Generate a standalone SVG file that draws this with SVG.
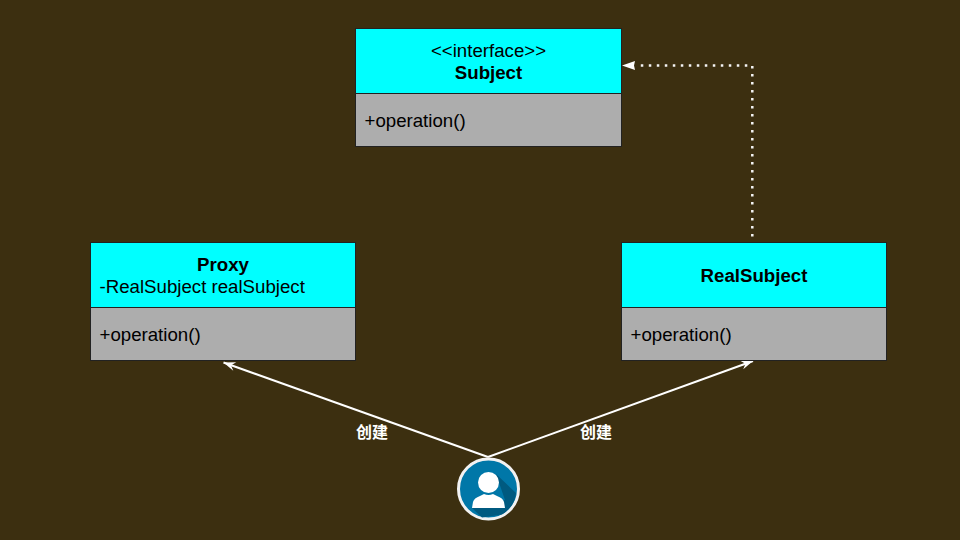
<svg xmlns="http://www.w3.org/2000/svg" width="960" height="540" viewBox="0 0 960 540">
<style>
.h{fill:#00ffff;stroke:#222;stroke-width:1}
.b{fill:#adadad;stroke:#222;stroke-width:1}
text{font-family:"Liberation Sans",Arial,sans-serif;font-size:18.67px;fill:#000}
.t{font-weight:bold;text-anchor:middle}
.c{text-anchor:middle}
.l{font-family:"Liberation Sans","Noto Sans CJK SC",sans-serif;font-size:16px;font-weight:bold;fill:#fff;text-anchor:middle}
.e{fill:none;stroke:#fff;stroke-width:2}
.d{fill:none;stroke:#f4f4f4;stroke-width:2.500;stroke-dasharray:2.500 5.500}
</style>
<defs>
<marker id="op" markerUnits="userSpaceOnUse" markerWidth="14" markerHeight="12" refX="13" refY="6" orient="auto"><path d="M13 6L1 1.500L5 6L1 10.500Z" fill="#fff"/></marker>
</defs>
<rect width="960" height="540" fill="#3c2f10"/>
<g id="connectors">
<path class="d" d="M752.300 244.500V65.500H636"/>
<path d="M635 61L634 65.500L635 70L622 65.500Z" fill="#fff"/>
<path class="e" d="M488 457L223.500 362.500" marker-end="url(#op)"/>
<path class="e" d="M488 457L753 361" marker-end="url(#op)"/>
</g>
<g id="subject">
<rect class="h" x="355.500" y="28.500" width="266" height="65"/>
<rect class="b" x="355.500" y="93.500" width="266" height="53"/>
<text class="c" x="488.500" y="57">&lt;&lt;interface&gt;&gt;</text>
<text class="t" x="488.500" y="79">Subject</text>
<text x="364.500" y="127">+operation()</text>
</g>
<g id="proxy">
<rect class="h" x="90.500" y="242.500" width="265" height="65"/>
<rect class="b" x="90.500" y="307.500" width="265" height="53"/>
<text class="t" x="223" y="271">Proxy</text>
<text x="99.500" y="293">-RealSubject realSubject</text>
<text x="99.500" y="341">+operation()</text>
</g>
<g id="realsubject">
<rect class="h" x="621.500" y="242.500" width="265" height="65"/>
<rect class="b" x="621.500" y="307.500" width="265" height="53"/>
<text class="t" x="754" y="282">RealSubject</text>
<text x="630.500" y="341">+operation()</text>
</g>
<g id="label-left"><text class="l" x="372" y="438">创建</text></g>
<g id="label-right"><text class="l" x="596" y="438">创建</text></g>
<g id="client">
<circle cx="488.500" cy="489" r="30" fill="#0077a8" stroke="#f2f2f2" stroke-width="3"/>
<path d="M496 474L516 493A28.500 28.500 0 0 1 502 514.500L482 517.500L472 508L505 500Z" fill="#005a80"/>
<circle cx="488.500" cy="482.500" r="10.500" fill="#fff"/>
<path d="M472 508L473 502Q474 498 480 496L484 494Q488.500 496 493 494L497 496Q503 498 504 502L505 508Z" fill="#fff"/>
</g>
</svg>
